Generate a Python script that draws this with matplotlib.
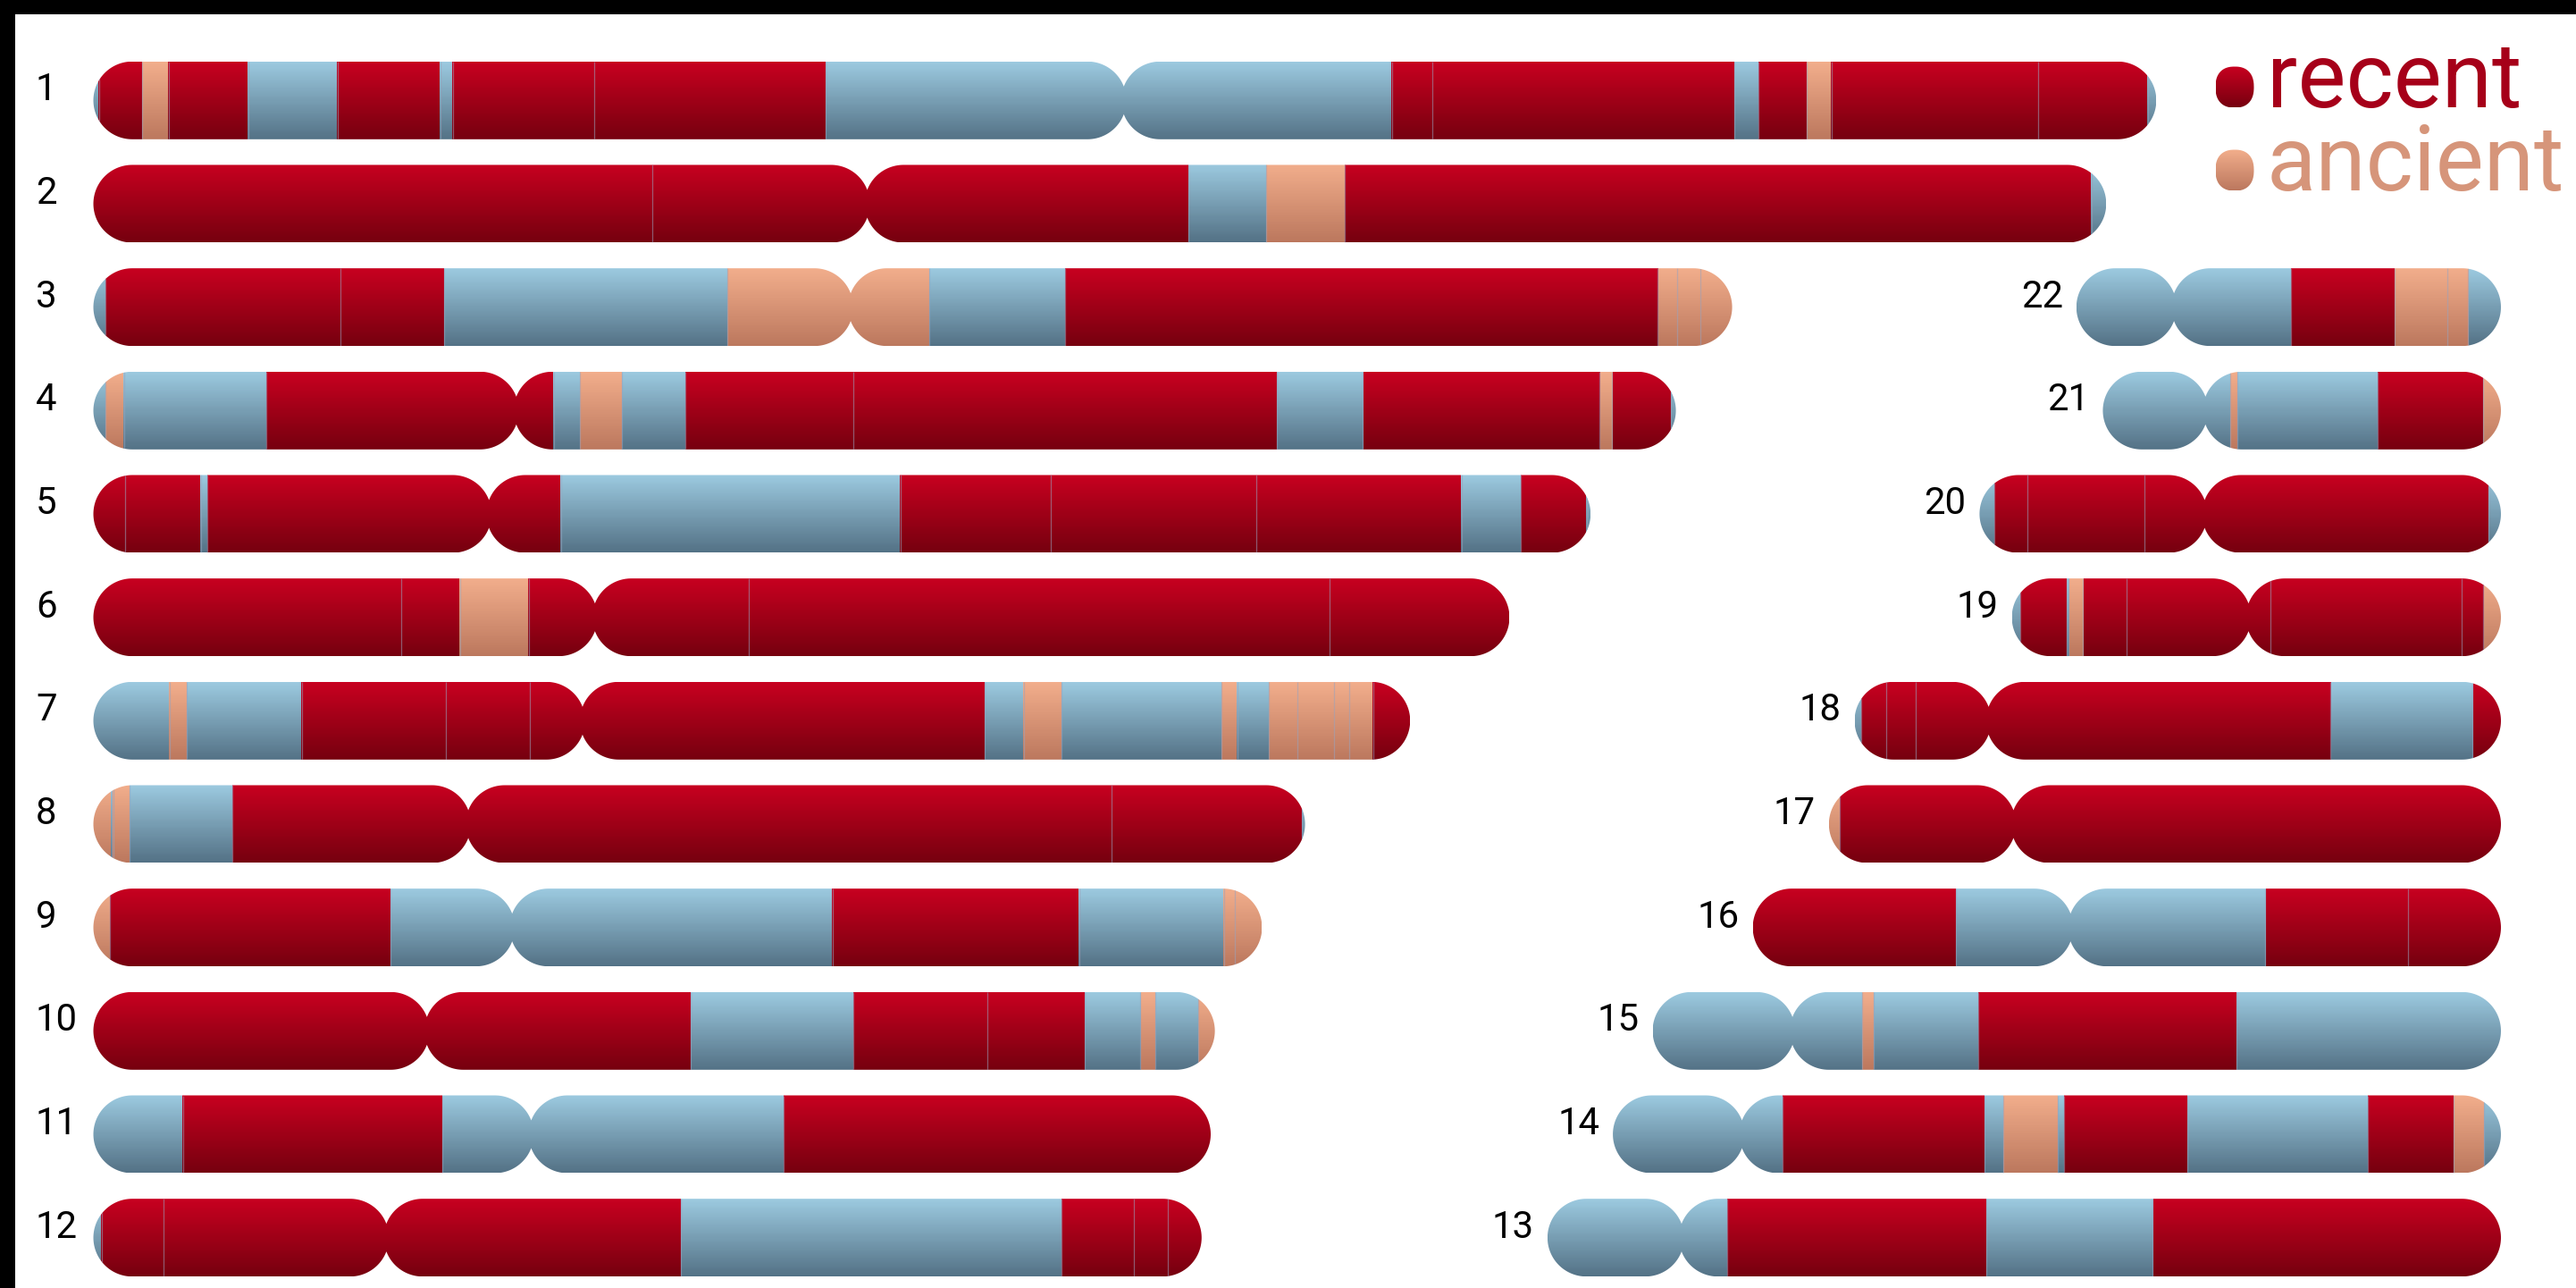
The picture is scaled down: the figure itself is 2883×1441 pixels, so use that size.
import numpy as np
import matplotlib
matplotlib.use("Agg")
import matplotlib.pyplot as plt
from matplotlib.path import Path
from matplotlib.patches import PathPatch, Rectangle

# ---------------- data (Mb) ----------------
chrom_names = [str(i) for i in range(1, 23)]
chrom_lengths = [249.25, 243.2, 198.0, 191.2, 180.9, 171.1, 159.1, 146.4, 141.2, 135.5, 135.0, 133.9,
                 115.2, 107.3, 102.5, 90.4, 81.2, 78.1, 59.1, 63.0, 48.1, 51.3]
centromeres = [124.5, 93.5, 91.5, 51.1, 47.8, 60.6, 59.1, 45.3, 50.6, 40.3, 52.9, 35.4,
               16.2, 15.6, 16.9, 38.4, 22.3, 16.2, 28.6, 27.2, 12.4, 11.8]

# segment end positions and state (n = none, r = recent, a = ancient)
chr1_ends = [0.7, 5.9, 9.1, 18.7, 29.5, 41.9, 43.4, 60.5, 88.5, 156.9, 161.8, 198.3, 201.2, 207.0, 210.0, 235.0, 248.2, 249.25]
chr1_states = "n r a r n r n r r n r r n r a r r n"
chr2_ends = [67.5, 132.3, 141.7, 151.2, 241.4, 243.2]
chr2_states = "r r n a r n"
chr3_ends = [1.5, 29.9, 42.4, 76.6, 101.0, 117.4, 189.0, 191.3, 194.2, 198.0]
chr3_states = "n r r n a n r a a a"
chr4_ends = [1.5, 3.7, 20.9, 55.6, 58.8, 63.9, 71.5, 91.8, 143.0, 153.4, 182.0, 183.5, 190.6, 191.2]
chr4_states = "n a n r n a n r r n r a r n"
chr5_ends = [3.8, 13.0, 13.8, 56.5, 97.5, 115.7, 140.5, 165.3, 172.5, 180.4, 180.9]
chr5_states = "r r n r n r r r n r n"
chr6_ends = [37.2, 44.3, 52.6, 79.2, 149.4, 171.1]
chr6_states = "r r a r r r"
chr7_ends = [9.2, 11.3, 25.2, 42.6, 52.7, 107.7, 112.4, 117.0, 136.3, 138.2, 142.0, 145.5, 149.9, 151.7, 154.6, 159.1]
chr7_states = "n a n r r r n a n a n a a a a r"
chr8_ends = [2.2, 2.4, 4.4, 16.8, 123.0, 146.0, 146.4]
chr8_states = "a n a n r r n"
chr9_ends = [2.0, 35.9, 89.3, 119.1, 136.6, 137.9, 141.2]
chr9_states = "a r n r n a a"
chr10_ends = [72.2, 91.8, 108.0, 119.8, 126.5, 128.3, 133.5, 135.5]
chr10_states = "r n r r n a n a"
chr11_ends = [10.8, 42.2, 83.4, 135.0]
chr11_states = "n r n r"
chr12_ends = [1.0, 8.5, 71.0, 117.0, 125.7, 129.8, 133.9]
chr12_states = "n r r n r r r"
chr13_ends = [21.7, 53.0, 73.1, 115.2]
chr13_states = "n r n r"
chr14_ends = [20.5, 44.9, 47.2, 53.8, 54.5, 69.4, 91.2, 101.6, 105.3, 107.3]
chr14_states = "n r n a n r n r a n"
chr15_ends = [25.3, 26.7, 39.3, 70.5, 102.5]
chr15_states = "n a n r n"
chr16_ends = [24.5, 61.9, 79.2, 90.4]
chr16_states = "r n r r"
chr17_ends = [1.3, 81.2]
chr17_states = "a r"
chr18_ends = [0.8, 3.8, 7.4, 57.5, 74.6, 78.1]
chr18_states = "n r r r n r"
chr19_ends = [1.0, 6.6, 6.9, 8.6, 13.9, 31.3, 54.3, 56.9, 59.1]
chr19_states = "n r n a r r r r a"
chr20_ends = [1.8, 5.8, 19.9, 61.5, 63.0]
chr20_states = "n r r r n"
chr21_ends = [15.4, 16.3, 33.2, 45.9, 48.1]
chr21_states = "n a n r a"
chr22_ends = [25.9, 38.4, 44.8, 47.3, 51.3]
chr22_states = "n r a a n"

seg_ends = [chr1_ends, chr2_ends, chr3_ends, chr4_ends, chr5_ends, chr6_ends, chr7_ends, chr8_ends,
            chr9_ends, chr10_ends, chr11_ends, chr12_ends, chr13_ends, chr14_ends, chr15_ends,
            chr16_ends, chr17_ends, chr18_ends, chr19_ends, chr20_ends, chr21_ends, chr22_ends]
seg_states = [chr1_states, chr2_states, chr3_states, chr4_states, chr5_states, chr6_states,
              chr7_states, chr8_states, chr9_states, chr10_states, chr11_states, chr12_states,
              chr13_states, chr14_states, chr15_states, chr16_states, chr17_states, chr18_states,
              chr19_states, chr20_states, chr21_states, chr22_states]

legend_labels = ["recent", "ancient"]

# ---------------- style ----------------
GRAD = {
    "r": ((200, 0, 32), (118, 0, 15)),
    "n": ((156, 202, 224), (84, 114, 134)),
    "a": ((242, 174, 140), (188, 120, 94)),
}
TEXT_COL = {"recent": "#a60019", "ancient": "#d6957a"}
DOT_STATE = {"recent": "r", "ancient": "a"}

W, H, DPI = 2883, 1441, 100
PX_PER_MB = 9.263
X_LEFT_PX = 104.5
RIGHT_END_PX = 2799.0
ROW0_PX = 112.3
ROW_STEP_PX = 115.67
HALF_H_PX = 43.5
WAIST_PX = 15.5

plt.rcParams["font.family"] = ["Roboto", "DejaVu Sans"]

fig = plt.figure(figsize=(W / DPI, H / DPI), dpi=DPI, facecolor="white")
ax = fig.add_axes([0, 0, 1, 1])
x_lo = -X_LEFT_PX / PX_PER_MB
x_hi = (W - X_LEFT_PX) / PX_PER_MB
y_hi = -(1 - ROW0_PX / ROW_STEP_PX)
y_lo = -(1 + (H - ROW0_PX) / ROW_STEP_PX)
ax.set_xlim(x_lo, x_hi)
ax.set_ylim(y_lo, y_hi)
ax.axis("off")

sx = PX_PER_MB          # px per data-x unit
sy = ROW_STEP_PX        # px per data-y unit
right_end = (RIGHT_END_PX - X_LEFT_PX) / PX_PER_MB
hh = HALF_H_PX / sy


def gradient_row_colors(state, n):
    top, bot = np.array(GRAD[state][0]) / 255, np.array(GRAD[state][1]) / 255
    t = np.linspace(0, 1, n)[:, None]
    return top * (1 - t) + bot * t


def outline_path(x0, L, C, yc):
    r = HALF_H_PX
    w = WAIST_PX
    Lp, Cp = L * sx, C * sx
    d = np.sqrt(r ** 2 - w ** 2)
    a = np.arcsin(w / r)
    pts = []
    th = np.linspace(np.pi / 2, 3 * np.pi / 2, 60)
    pts += list(zip(r + r * np.cos(th), r * np.sin(th)))
    th = np.linspace(3 * np.pi / 2, 2 * np.pi - a, 30)
    pts += list(zip(Cp - d + r * np.cos(th), r * np.sin(th)))
    th = np.linspace(np.pi + a, 3 * np.pi / 2, 30)
    pts += list(zip(Cp + d + r * np.cos(th), r * np.sin(th)))
    th = np.linspace(-np.pi / 2, np.pi / 2, 60)
    pts += list(zip(Lp - r + r * np.cos(th), r * np.sin(th)))
    th = np.linspace(np.pi / 2, np.pi - a, 30)
    pts += list(zip(Cp + d + r * np.cos(th), r * np.sin(th)))
    th = np.linspace(a, np.pi / 2, 30)
    pts += list(zip(Cp - d + r * np.cos(th), r * np.sin(th)))
    pts = np.array(pts)
    pts[:, 0] = x0 + pts[:, 0] / sx
    pts[:, 1] = yc + pts[:, 1] / sy
    pts = np.vstack([pts, pts[:1]])
    codes = [Path.MOVETO] + [Path.LINETO] * (len(pts) - 2) + [Path.CLOSEPOLY]
    return Path(pts, codes)


NROWS = 80
RES = 0.02  # Mb per image column

for i, name in enumerate(chrom_names):
    L = chrom_lengths[i]
    C = centromeres[i]
    ends = seg_ends[i]
    states = seg_states[i].split()
    k = i + 1
    if k <= 12:
        row = k
        x0 = 0.0
    else:
        row = 25 - k
        x0 = right_end - L
    yc = -row

    ncol = int(np.ceil(L / RES))
    xs = (np.arange(ncol) + 0.5) * RES
    idx = np.searchsorted(np.array(ends), xs, side="right")
    idx = np.clip(idx, 0, len(states) - 1)
    img = np.zeros((NROWS, ncol, 3))
    for s in set(states):
        cols = np.array([states[j] == s for j in idx])
        img[:, cols, :] = gradient_row_colors(s, NROWS)[:, None, :]

    path = outline_path(x0, L, C, yc)
    patch = PathPatch(path, facecolor="none", edgecolor="none")
    ax.add_patch(patch)
    im = ax.imshow(img, extent=(x0, x0 + L, yc - hh, yc + hh), origin="upper",
                   interpolation="nearest", aspect="auto", zorder=2)
    im.set_clip_path(patch)

    # faint lines at segment boundaries
    for b in ends[:-1]:
        ln = ax.vlines(x0 + b, yc - hh, yc + hh, colors="#9aa3bd", linewidth=0.9,
                       alpha=0.55, zorder=3)
        ln.set_clip_path(patch)

    # label
    if k <= 12:
        ax.text(x_lo + 40 / sx, yc, name, ha="left", va="baseline", fontsize=30.2,
                color="black", zorder=4)
    else:
        ax.text(x0 - 15 / sx, yc, name, ha="right", va="baseline", fontsize=30.2,
                color="black", zorder=4)

# ---------------- legend ----------------
leg_text_x = (2537 - X_LEFT_PX) / sx
leg_dot_x = (2501 - X_LEFT_PX) / sx
leg_base_px = [120, 213]
leg_dot_px = [97.5, 190.5]
dot_a, dot_b = 21.5, 23.0  # half width/height in px
for lab, bpx, dpx in zip(legend_labels, leg_base_px, leg_dot_px):
    yb = -(1 + (bpx - ROW0_PX) / sy)
    ax.text(leg_text_x, yb, lab, ha="left", va="baseline", fontsize=73.4,
            color=TEXT_COL[lab], zorder=4)
    yd = -(1 + (dpx - ROW0_PX) / sy)
    t = np.linspace(0, 2 * np.pi, 160)
    n = 2.4
    px = dot_a * np.sign(np.cos(t)) * np.abs(np.cos(t)) ** (2 / n)
    py = dot_b * np.sign(np.sin(t)) * np.abs(np.sin(t)) ** (2 / n)
    verts = np.column_stack([leg_dot_x + px / sx, yd + py / sy])
    dpatch = PathPatch(Path(verts, closed=False), facecolor="none", edgecolor="none")
    ax.add_patch(dpatch)
    g = gradient_row_colors(DOT_STATE[lab], NROWS)[:, None, :].repeat(4, axis=1)
    dim = ax.imshow(g, extent=(leg_dot_x - dot_a / sx, leg_dot_x + dot_a / sx,
                               yd - dot_b / sy, yd + dot_b / sy),
                    origin="upper", aspect="auto", interpolation="bilinear", zorder=3)
    dim.set_clip_path(dpatch)

ax.set_xlim(x_lo, x_hi)
ax.set_ylim(y_lo, y_hi)

# black screen borders (top and left)
fig.patches.append(Rectangle((0, 1 - 16 / H), 1, 16 / H, transform=fig.transFigure,
                             facecolor="black", edgecolor="none", zorder=10))
fig.patches.append(Rectangle((0, 0), 17 / W, 1, transform=fig.transFigure,
                             facecolor="black", edgecolor="none", zorder=10))

fig.savefig("out.png", dpi=DPI, facecolor="white")
